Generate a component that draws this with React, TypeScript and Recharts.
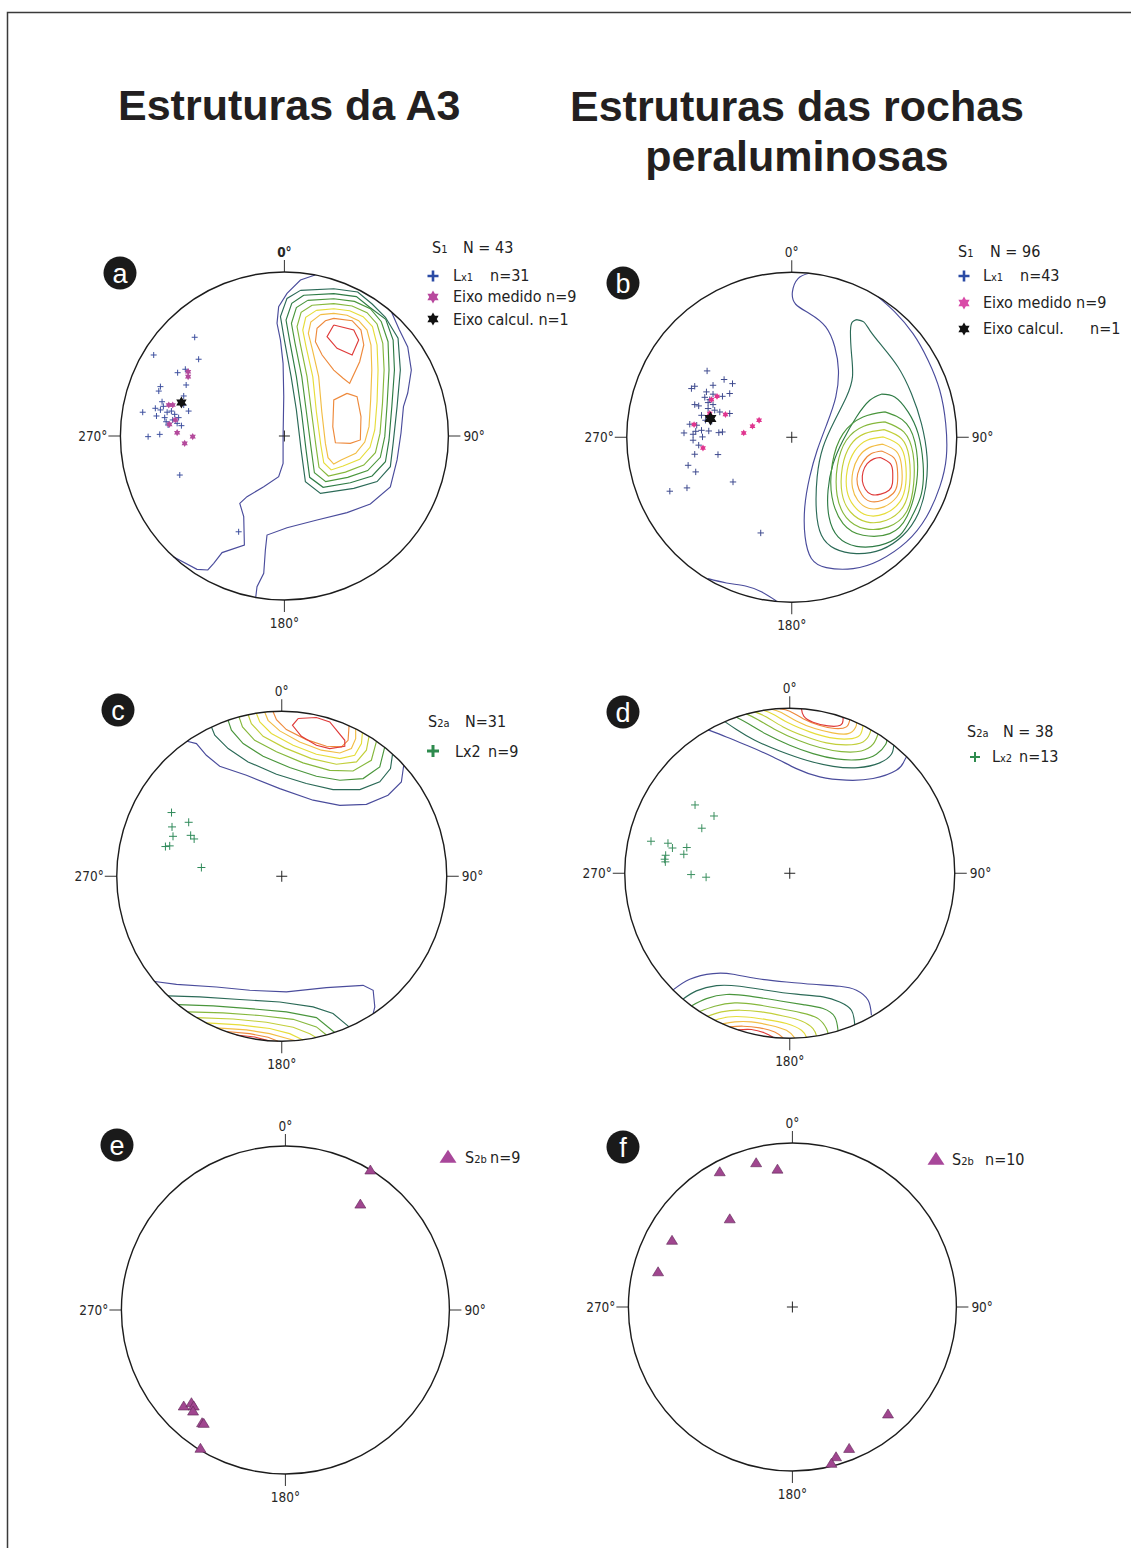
import React from "react";
import { ScatterChart, Scatter, XAxis, YAxis, ReferenceDot, ReferenceLine } from "recharts";

type Pt = [number, number];
type Contour = { level: number; closed?: boolean; pts: Pt[] };

// contour level colours, outermost (blue) to peak (red)
const levelColors = ["#4a4c9c", "#2b6a57", "#2e7b45", "#4a963c", "#86b83c", "#c2cf3a", "#e6dd3a", "#f2bd45", "#ee8a3c", "#df3b3a"];
const compassLabels = ["0°", "90°", "180°", "270°"];

// ---- a: S1 da A3 (coords on unit primitive circle, x = E, y = N)
const lx1A: Pt[] = [
  [-0.547, 0.602], [-0.797, 0.494], [-0.523, 0.468], [-0.651, 0.386], [-0.604, 0.407], [-0.599, 0.311], [-0.756, 0.301],
  [-0.766, 0.274], [-0.746, 0.209], [-0.614, 0.244], [-0.864, 0.145], [-0.756, 0.159], [-0.715, 0.145], [-0.689, 0.152],
  [-0.584, 0.152], [-0.78, 0.122], [-0.73, 0.112], [-0.721, 0.087], [-0.645, 0.112], [-0.628, 0.063], [-0.831, -0.004],
  [-0.76, 0.01], [-0.638, -0.238], [-0.279, -0.584], [-0.738, 0.181], [-0.709, 0.067], [-0.669, 0.132], [-0.614, 0.189],
  [-0.681, 0.098], [-0.787, 0.169], [-0.654, 0.077],
];
const eixoMedidoA: Pt[] = [
  [-0.587, 0.392], [-0.587, 0.362], [-0.705, 0.189], [-0.681, 0.189], [-0.665, 0.098], [-0.701, 0.071], [-0.654, 0.02],
  [-0.559, -0.004], [-0.608, -0.045],
];
const eixoCalcA: Pt[] = [[-0.628, 0.205]];
const contoursA: Contour[] = [
  { level: 0, pts: [[0.187, 0.982], [0.098, 0.951], [0.016, 0.87], [-0.035, 0.789], [-0.045, 0.687], [-0.024, 0.585], [-0.008, 0.443], [-0.004, 0.24], [-0.008, -0.004], [-0.008, -0.167], [-0.035, -0.248], [-0.126, -0.309], [-0.228, -0.37], [-0.272, -0.411], [-0.248, -0.492], [-0.244, -0.665], [-0.38, -0.711], [-0.431, -0.776], [-0.467, -0.817], [-0.533, -0.813], [-0.68, -0.735]] },
  { level: 0, pts: [[-0.175, -0.985], [-0.167, -0.919], [-0.126, -0.837], [-0.116, -0.695], [-0.106, -0.604], [0.016, -0.559], [0.199, -0.512], [0.382, -0.467], [0.524, -0.415], [0.646, -0.311], [0.687, -0.146], [0.711, 0.018], [0.726, 0.179], [0.752, 0.262], [0.774, 0.402], [0.752, 0.543], [0.7, 0.65], [0.655, 0.752]] },
  { level: 1, closed: true, pts: [[0.098, 0.888], [0.301, 0.898], [0.447, 0.878], [0.535, 0.805], [0.616, 0.724], [0.693, 0.596], [0.707, 0.402], [0.687, 0.179], [0.663, -0.045], [0.646, -0.187], [0.565, -0.278], [0.423, -0.319], [0.22, -0.35], [0.128, -0.278], [0.102, -0.085], [0.073, 0.159], [0.041, 0.362], [0.0, 0.585], [-0.024, 0.728], [0.016, 0.839]] },
  { level: 2, closed: true, pts: [[0.118, 0.858], [0.301, 0.868], [0.439, 0.85], [0.52, 0.785], [0.618, 0.711], [0.663, 0.585], [0.671, 0.402], [0.655, 0.179], [0.638, -0.024], [0.616, -0.157], [0.535, -0.244], [0.402, -0.285], [0.236, -0.313], [0.154, -0.252], [0.132, -0.085], [0.104, 0.148], [0.073, 0.362], [0.033, 0.575], [0.01, 0.707], [0.045, 0.809]] },
  { level: 3, closed: true, pts: [[0.142, 0.827], [0.301, 0.837], [0.427, 0.821], [0.524, 0.776], [0.591, 0.697], [0.632, 0.575], [0.638, 0.402], [0.626, 0.189], [0.612, -0.004], [0.585, -0.13], [0.508, -0.211], [0.386, -0.252], [0.252, -0.278], [0.183, -0.224], [0.163, -0.075], [0.134, 0.148], [0.106, 0.362], [0.065, 0.565], [0.043, 0.687], [0.073, 0.783]] },
  { level: 4, closed: true, pts: [[0.169, 0.797], [0.301, 0.807], [0.413, 0.793], [0.504, 0.752], [0.565, 0.683], [0.6, 0.565], [0.608, 0.402], [0.598, 0.199], [0.583, 0.016], [0.555, -0.102], [0.484, -0.177], [0.372, -0.22], [0.268, -0.244], [0.211, -0.191], [0.193, -0.065], [0.165, 0.148], [0.138, 0.362], [0.098, 0.555], [0.077, 0.667], [0.102, 0.754]] },
  { level: 6, closed: true, pts: [[0.195, 0.766], [0.301, 0.776], [0.398, 0.764], [0.48, 0.728], [0.537, 0.667], [0.565, 0.555], [0.571, 0.402], [0.565, 0.209], [0.551, 0.037], [0.522, -0.069], [0.459, -0.142], [0.358, -0.183], [0.285, -0.207], [0.24, -0.163], [0.222, -0.055], [0.195, 0.148], [0.173, 0.362], [0.132, 0.545], [0.112, 0.646], [0.13, 0.724]] },
  { level: 7, closed: true, pts: [[0.22, 0.74], [0.301, 0.748], [0.382, 0.736], [0.453, 0.703], [0.504, 0.646], [0.528, 0.555], [0.533, 0.402], [0.526, 0.22], [0.516, 0.057], [0.49, -0.037], [0.435, -0.106], [0.346, -0.146], [0.301, -0.171], [0.266, -0.132], [0.25, -0.045], [0.228, 0.148], [0.209, 0.362], [0.169, 0.535], [0.146, 0.626], [0.161, 0.695]] },
  { level: 8, closed: true, pts: [[0.301, 0.717], [0.413, 0.703], [0.467, 0.646], [0.484, 0.555], [0.459, 0.453], [0.398, 0.321], [0.358, 0.352], [0.301, 0.402], [0.23, 0.494], [0.189, 0.575], [0.199, 0.657], [0.25, 0.703]] },
  { level: 9, closed: true, pts: [[0.301, 0.677], [0.423, 0.646], [0.453, 0.585], [0.413, 0.494], [0.321, 0.535], [0.26, 0.606]] },
  { level: 8, closed: true, pts: [[0.382, 0.26], [0.443, 0.24], [0.467, 0.118], [0.463, -0.024], [0.402, -0.045], [0.311, -0.041], [0.295, 0.057], [0.301, 0.22]] },
];

// ---- b: S1 das rochas peraluminosas
const lx1B: Pt[] = [
  [-0.513, 0.402], [-0.608, 0.295], [-0.588, 0.309], [-0.477, 0.315], [-0.41, 0.35], [-0.359, 0.325], [-0.517, 0.275],
  [-0.477, 0.261], [-0.42, 0.248], [-0.376, 0.265], [-0.588, 0.198], [-0.564, 0.19], [-0.507, 0.21], [-0.477, 0.198],
  [-0.507, 0.174], [-0.547, 0.133], [-0.523, 0.103], [-0.436, 0.153], [-0.376, 0.144], [-0.653, 0.026], [-0.598, 0.018],
  [-0.582, 0.036], [-0.547, 0.042], [-0.503, 0.038], [-0.442, 0.028], [-0.42, 0.032], [-0.598, -0.018], [-0.541, 0.002],
  [-0.564, -0.048], [-0.588, -0.103], [-0.447, -0.105], [-0.628, -0.17], [-0.582, -0.21], [-0.356, -0.271], [-0.635, -0.307],
  [-0.739, -0.327], [-0.188, -0.58], [-0.497, 0.228], [-0.467, 0.164], [-0.527, 0.242], [-0.618, 0.079], [-0.576, 0.073],
  [-0.485, 0.097],
];
const eixoMedidoB: Pt[] = [
  [-0.487, 0.228], [-0.453, 0.248], [-0.497, 0.144], [-0.402, 0.138], [-0.592, 0.077], [-0.538, -0.065], [-0.291, 0.026],
  [-0.238, 0.067], [-0.198, 0.103],
];
const eixoCalcB: Pt[] = [[-0.493, 0.113]];
const contoursB: Contour[] = [
  { level: 0, pts: [[0.104, 0.994], [0.038, 0.962], [0.004, 0.881], [0.024, 0.806], [0.109, 0.749], [0.206, 0.669], [0.261, 0.547], [0.283, 0.406], [0.267, 0.244], [0.214, 0.083], [0.154, -0.079], [0.109, -0.24], [0.079, -0.422], [0.081, -0.604], [0.119, -0.735], [0.21, -0.79], [0.372, -0.796], [0.533, -0.745], [0.695, -0.634], [0.816, -0.483], [0.897, -0.301], [0.937, -0.119], [0.933, 0.083], [0.897, 0.285], [0.826, 0.467], [0.735, 0.628], [0.624, 0.76], [0.523, 0.851]] },
  { level: 0, pts: [[-0.507, -0.857], [-0.396, -0.883], [-0.275, -0.903], [-0.184, -0.937], [-0.093, -0.992]] },
  { level: 1, closed: true, pts: [[0.392, 0.713], [0.436, 0.699], [0.473, 0.648], [0.543, 0.558], [0.644, 0.426], [0.725, 0.265], [0.786, 0.083], [0.82, -0.119], [0.812, -0.301], [0.766, -0.463], [0.675, -0.594], [0.543, -0.681], [0.392, -0.705], [0.261, -0.675], [0.18, -0.594], [0.149, -0.442], [0.154, -0.24], [0.19, -0.059], [0.261, 0.103], [0.331, 0.244], [0.368, 0.366], [0.362, 0.507], [0.356, 0.648], [0.368, 0.699]] },
  { level: 2, closed: true, pts: [[0.543, 0.261], [0.624, 0.244], [0.705, 0.154], [0.766, 0.022], [0.796, -0.16], [0.786, -0.341], [0.727, -0.483], [0.655, -0.594], [0.533, -0.655], [0.392, -0.661], [0.281, -0.604], [0.226, -0.483], [0.22, -0.321], [0.251, -0.16], [0.311, -0.018], [0.392, 0.123], [0.473, 0.224]] },
  { level: 3, closed: true, pts: [[0.564, 0.154], [0.695, 0.083], [0.756, -0.079], [0.756, -0.281], [0.699, -0.479], [0.594, -0.584], [0.432, -0.594], [0.311, -0.523], [0.244, -0.362], [0.246, -0.16], [0.311, 0.022], [0.432, 0.123]] },
  { level: 4, closed: true, pts: [[0.564, 0.093], [0.679, 0.032], [0.735, -0.099], [0.739, -0.281], [0.695, -0.453], [0.584, -0.543], [0.442, -0.554], [0.331, -0.487], [0.275, -0.352], [0.277, -0.17], [0.331, -0.018], [0.436, 0.067]] },
  { level: 5, closed: true, pts: [[0.56, 0.046], [0.665, -0.008], [0.711, -0.119], [0.715, -0.281], [0.675, -0.422], [0.574, -0.503], [0.453, -0.513], [0.356, -0.453], [0.305, -0.341], [0.307, -0.18], [0.356, -0.048], [0.442, 0.022]] },
  { level: 6, closed: true, pts: [[0.556, 0.002], [0.651, -0.048], [0.689, -0.149], [0.691, -0.281], [0.655, -0.392], [0.564, -0.463], [0.457, -0.473], [0.378, -0.418], [0.335, -0.325], [0.337, -0.196], [0.382, -0.083], [0.457, -0.018]] },
  { level: 7, closed: true, pts: [[0.552, -0.042], [0.634, -0.085], [0.665, -0.17], [0.667, -0.281], [0.636, -0.362], [0.558, -0.422], [0.465, -0.43], [0.4, -0.382], [0.368, -0.305], [0.37, -0.21], [0.406, -0.119], [0.469, -0.063]] },
  { level: 8, closed: true, pts: [[0.545, -0.083], [0.618, -0.123], [0.64, -0.19], [0.64, -0.281], [0.614, -0.341], [0.549, -0.382], [0.473, -0.388], [0.424, -0.347], [0.398, -0.285], [0.4, -0.22], [0.432, -0.149], [0.483, -0.099]] },
  { level: 9, closed: true, pts: [[0.537, -0.123], [0.598, -0.16], [0.612, -0.216], [0.61, -0.281], [0.59, -0.321], [0.539, -0.345], [0.483, -0.347], [0.446, -0.315], [0.428, -0.265], [0.432, -0.21], [0.457, -0.16], [0.497, -0.131]] },
];

// ---- c: S2a da A3
const lx2C: Pt[] = [
  [-0.668, 0.386], [-0.665, 0.299], [-0.564, 0.327], [-0.659, 0.242], [-0.552, 0.248], [-0.531, 0.226], [-0.705, 0.18],
  [-0.679, 0.184], [-0.487, 0.053],
];
const contoursC: Contour[] = [
  { level: 0, pts: [[-0.574, 0.818], [-0.517, 0.804], [-0.457, 0.733], [-0.376, 0.667], [-0.214, 0.612], [-0.012, 0.531], [0.19, 0.461], [0.352, 0.43], [0.513, 0.436], [0.644, 0.491], [0.725, 0.572], [0.739, 0.671]] },
  { level: 1, pts: [[-0.426, 0.905], [-0.406, 0.855], [-0.325, 0.774], [-0.204, 0.693], [-0.032, 0.618], [0.149, 0.562], [0.311, 0.525], [0.473, 0.525], [0.594, 0.572], [0.659, 0.653], [0.671, 0.737]] },
  { level: 3, pts: [[-0.325, 0.945], [-0.305, 0.885], [-0.234, 0.804], [-0.113, 0.727], [0.048, 0.659], [0.21, 0.606], [0.352, 0.582], [0.493, 0.592], [0.594, 0.663], [0.624, 0.782]] },
  { level: 4, pts: [[-0.259, 0.966], [-0.238, 0.905], [-0.164, 0.824], [-0.032, 0.754], [0.129, 0.687], [0.291, 0.642], [0.432, 0.638], [0.543, 0.703], [0.574, 0.818]] },
  { level: 5, pts: [[-0.204, 0.98], [-0.184, 0.925], [-0.113, 0.848], [0.018, 0.778], [0.18, 0.713], [0.331, 0.679], [0.453, 0.693], [0.513, 0.764], [0.529, 0.848]] },
  { level: 6, pts: [[-0.154, 0.988], [-0.133, 0.935], [-0.063, 0.865], [0.069, 0.794], [0.21, 0.739], [0.352, 0.713], [0.442, 0.733], [0.483, 0.804], [0.489, 0.873]] },
  { level: 7, pts: [[-0.103, 0.994], [-0.083, 0.945], [-0.012, 0.881], [0.109, 0.814], [0.24, 0.764], [0.352, 0.747], [0.422, 0.774], [0.448, 0.834], [0.448, 0.893]] },
  { level: 8, pts: [[-0.053, 0.998], [-0.032, 0.949], [0.028, 0.889], [0.149, 0.828], [0.271, 0.788], [0.362, 0.784], [0.402, 0.824], [0.408, 0.913]] },
  { level: 9, closed: true, pts: [[0.099, 0.956], [0.21, 0.962], [0.291, 0.935], [0.382, 0.824], [0.382, 0.788], [0.291, 0.774], [0.21, 0.794], [0.119, 0.848], [0.065, 0.915]] },
  { level: 0, pts: [[-0.77, -0.638], [-0.638, -0.655], [-0.396, -0.671], [-0.194, -0.691], [0.028, -0.701], [0.271, -0.675], [0.493, -0.661], [0.554, -0.691], [0.564, -0.792], [0.554, -0.832]] },
  { level: 1, pts: [[-0.689, -0.725], [-0.497, -0.731], [-0.255, -0.747], [-0.012, -0.762], [0.19, -0.792], [0.311, -0.832], [0.408, -0.913]] },
  { level: 3, pts: [[-0.628, -0.778], [-0.416, -0.786], [-0.194, -0.802], [0.028, -0.822], [0.21, -0.857], [0.321, -0.947]] },
  { level: 4, pts: [[-0.568, -0.822], [-0.356, -0.828], [-0.133, -0.844], [0.069, -0.867], [0.21, -0.913], [0.271, -0.962]] },
  { level: 5, pts: [[-0.517, -0.857], [-0.295, -0.865], [-0.093, -0.885], [0.069, -0.915], [0.17, -0.954], [0.21, -0.978]] },
  { level: 6, pts: [[-0.457, -0.889], [-0.255, -0.901], [-0.073, -0.923], [0.048, -0.954], [0.129, -0.992]] },
  { level: 7, pts: [[-0.396, -0.919], [-0.214, -0.931], [-0.073, -0.954], [0.028, -0.982], [0.079, -0.996]] },
  { level: 8, pts: [[-0.335, -0.941], [-0.194, -0.954], [-0.083, -0.976], [-0.022, -1.0]] },
  { level: 9, pts: [[-0.275, -0.962], [-0.164, -0.974], [-0.083, -0.996]] },
];

// ---- d: S2a das rochas peraluminosas
const lx2D: Pt[] = [
  [-0.574, 0.414], [-0.459, 0.347], [-0.533, 0.273], [-0.841, 0.194], [-0.738, 0.182], [-0.711, 0.153], [-0.624, 0.156],
  [-0.642, 0.115], [-0.752, 0.109], [-0.758, 0.085], [-0.754, 0.069], [-0.598, -0.008], [-0.507, -0.024],
];
const contoursD: Contour[] = [
  { level: 0, pts: [[-0.495, 0.869], [-0.384, 0.826], [-0.263, 0.776], [-0.101, 0.705], [0.04, 0.634], [0.182, 0.584], [0.343, 0.564], [0.505, 0.574], [0.646, 0.624], [0.691, 0.675], [0.707, 0.705]] },
  { level: 1, pts: [[-0.394, 0.919], [-0.323, 0.871], [-0.212, 0.806], [-0.061, 0.741], [0.101, 0.685], [0.263, 0.648], [0.414, 0.64], [0.545, 0.669], [0.616, 0.721], [0.63, 0.776]] },
  { level: 3, pts: [[-0.323, 0.945], [-0.253, 0.907], [-0.141, 0.842], [0.0, 0.776], [0.141, 0.725], [0.283, 0.693], [0.424, 0.689], [0.525, 0.721], [0.582, 0.782], [0.586, 0.81]] },
  { level: 4, pts: [[-0.263, 0.966], [-0.192, 0.931], [-0.081, 0.867], [0.051, 0.806], [0.182, 0.762], [0.313, 0.737], [0.434, 0.741], [0.505, 0.782], [0.535, 0.844]] },
  { level: 5, pts: [[-0.212, 0.978], [-0.141, 0.947], [-0.04, 0.887], [0.091, 0.83], [0.222, 0.79], [0.343, 0.778], [0.444, 0.796], [0.485, 0.846], [0.491, 0.871]] },
  { level: 6, pts: [[-0.162, 0.988], [-0.101, 0.964], [0.0, 0.907], [0.121, 0.857], [0.242, 0.822], [0.354, 0.814], [0.424, 0.836], [0.444, 0.895]] },
  { level: 7, pts: [[-0.111, 0.994], [-0.051, 0.974], [0.04, 0.923], [0.152, 0.877], [0.259, 0.851], [0.354, 0.846], [0.4, 0.887], [0.404, 0.915]] },
  { level: 8, pts: [[-0.061, 0.998], [0.0, 0.982], [0.081, 0.937], [0.178, 0.897], [0.273, 0.877], [0.343, 0.887], [0.364, 0.931]] },
  { level: 9, pts: [[0.071, 0.996], [0.085, 0.952], [0.141, 0.915], [0.232, 0.893], [0.307, 0.897], [0.323, 0.927], [0.323, 0.945]] },
  { level: 0, pts: [[-0.707, -0.707], [-0.606, -0.642], [-0.465, -0.608], [-0.343, -0.612], [-0.202, -0.638], [-0.02, -0.659], [0.141, -0.673], [0.303, -0.685], [0.404, -0.709], [0.475, -0.77], [0.495, -0.861]] },
  { level: 1, pts: [[-0.646, -0.762], [-0.566, -0.713], [-0.444, -0.681], [-0.303, -0.685], [-0.141, -0.709], [0.04, -0.733], [0.202, -0.749], [0.303, -0.78], [0.374, -0.83], [0.394, -0.919]] },
  { level: 3, pts: [[-0.596, -0.804], [-0.505, -0.76], [-0.384, -0.735], [-0.242, -0.745], [-0.081, -0.77], [0.081, -0.796], [0.202, -0.82], [0.273, -0.871], [0.293, -0.956]] },
  { level: 4, pts: [[-0.545, -0.838], [-0.455, -0.806], [-0.333, -0.786], [-0.202, -0.796], [-0.061, -0.82], [0.071, -0.846], [0.172, -0.881], [0.222, -0.941], [0.232, -0.972]] },
  { level: 5, pts: [[-0.499, -0.867], [-0.414, -0.84], [-0.303, -0.83], [-0.172, -0.84], [-0.04, -0.865], [0.071, -0.895], [0.141, -0.941], [0.162, -0.986]] },
  { level: 6, pts: [[-0.455, -0.891], [-0.374, -0.871], [-0.263, -0.871], [-0.141, -0.887], [-0.02, -0.911], [0.071, -0.952], [0.101, -0.994]] },
  { level: 7, pts: [[-0.408, -0.913], [-0.333, -0.901], [-0.232, -0.901], [-0.121, -0.921], [-0.02, -0.952], [0.03, -0.998]] },
  { level: 8, pts: [[-0.364, -0.931], [-0.283, -0.927], [-0.182, -0.937], [-0.091, -0.962], [-0.04, -0.998]] },
  { level: 9, pts: [[-0.313, -0.949], [-0.232, -0.947], [-0.152, -0.968], [-0.101, -0.994]] },
];

// ---- e, f: S2b poles
const s2bE: Pt[] = [
  [0.518, 0.854], [0.457, 0.646], [-0.62, -0.585], [-0.573, -0.565], [-0.559, -0.585], [-0.563, -0.616], [-0.508, -0.687],
  [-0.498, -0.691], [-0.518, -0.843],
];
const s2bF: Pt[] = [
  [-0.443, 0.825], [-0.221, 0.88], [-0.091, 0.841], [-0.382, 0.538], [-0.734, 0.407], [-0.819, 0.215], [0.583, -0.652],
  [0.346, -0.862], [0.266, -0.913], [0.238, -0.953],
];

const FONT = "'DejaVu Sans Condensed', 'DejaVu Sans', sans-serif";
const TITLE_FONT = "'Liberation Sans', Arial, sans-serif";
const XR = 1.35;
const YR = 1.25;

const toRows = (pts: Pt[], closed?: boolean) => {
  const rows = pts.map(([x, y]) => ({ x, y }));
  return closed ? [...rows, rows[0]] : rows;
};

const noMark = () => <g />;

const plusPath = (x: number, y: number, a: number) => `M${x - a},${y}H${x + a}M${x},${y - a}V${y + a}`;
// six-pointed star: two triangles wound the same way so the middle stays filled
const starPath = (x: number, y: number, s: number) =>
  `M${x},${y - s}L${x + 0.866 * s},${y + 0.5 * s}L${x - 0.866 * s},${y + 0.5 * s}Z` +
  `M${x},${y + s}L${x - 0.866 * s},${y - 0.5 * s}L${x + 0.866 * s},${y - 0.5 * s}Z`;
const triPath = (x: number, y: number, w: number, h: number) =>
  `M${x},${y - h * 0.55}L${x + w / 2},${y + h * 0.45}L${x - w / 2},${y + h * 0.45}Z`;

const plus = (color: string, arm: number, sw: number) => (p: any) =>
  <path d={plusPath(p.cx, p.cy, arm)} stroke={color} strokeWidth={sw} fill="none" />;
const star = (color: string, s: number) => (p: any) => <path d={starPath(p.cx, p.cy, s)} fill={color} />;
const tri = (color: string) => (p: any) =>
  <path d={triPath(p.cx, p.cy, 11, 9)} fill={color} stroke="#5e2656" strokeWidth={0.6} />;

type Series = { key: string; pts: Pt[]; shape: (p: any) => React.ReactElement };

function Stereonet({
  cx, cy, r, contours = [], curve = "linear", series, center = true, boldNorth = false,
}: {
  cx: number; cy: number; r: number; contours?: Contour[]; curve?: "linear" | "natural";
  series: Series[]; center?: boolean; boldNorth?: boolean;
}) {
  const w = 2 * XR * r;
  const h = 2 * YR * r;
  const t = 12 / r;
  const lab = { fill: "#262626", fontSize: 13.5, fontFamily: FONT };
  return (
    <div style={{ position: "absolute", left: cx - XR * r, top: cy - YR * r }}>
      <ScatterChart width={w} height={h} margin={{ top: 0, right: 0, bottom: 0, left: 0 }}>
        <XAxis type="number" dataKey="x" domain={[-XR, XR]} allowDataOverflow hide />
        <YAxis type="number" dataKey="y" domain={[-YR, YR]} allowDataOverflow hide />
        {contours.map((c, i) => (
          <Scatter
            key={`c${i}`}
            data={toRows(c.pts, c.closed)}
            fill={levelColors[c.level]}
            line={{ stroke: levelColors[c.level], strokeWidth: 1.15 }}
            lineJointType={curve}
            shape={noMark}
            isAnimationActive={false}
          />
        ))}
        <ReferenceDot x={0} y={0} r={r} fill="none" stroke="#1c1c1c" strokeWidth={1.4} />
        <ReferenceLine segment={[{ x: 0, y: 1 }, { x: 0, y: 1 + t }]} stroke="#333"
          label={{ value: compassLabels[0], position: "top", offset: 3, ...lab, fontWeight: boldNorth ? 700 : 400 }} />
        <ReferenceLine segment={[{ x: 1, y: 0 }, { x: 1 + t, y: 0 }]} stroke="#333"
          label={{ value: compassLabels[1], position: "right", offset: 3, ...lab }} />
        <ReferenceLine segment={[{ x: 0, y: -1 }, { x: 0, y: -1 - t }]} stroke="#333"
          label={{ value: compassLabels[2], position: "bottom", offset: 6, ...lab }} />
        <ReferenceLine segment={[{ x: -1, y: 0 }, { x: -1 - t, y: 0 }]} stroke="#333"
          label={{ value: compassLabels[3], position: "left", offset: 1, ...lab }} />
        {center && <Scatter data={[{ x: 0, y: 0 }]} shape={plus("#222", 5.5, 1)} isAnimationActive={false} />}
        {series.map((s) => (
          <Scatter key={s.key} data={toRows(s.pts)} shape={s.shape} isAnimationActive={false} />
        ))}
      </ScatterChart>
    </div>
  );
}

const Sub = ({ children }: { children: React.ReactNode }) => <tspan fontSize={11}>{children}</tspan>;

function Badge({ x, y, letter }: { x: number; y: number; letter: string }) {
  return (
    <g>
      <circle cx={x} cy={y} r={16.5} fill="#1a1a1a" />
      <text x={x} y={y + 9.5} textAnchor="middle" fill="#fff" fontSize={27} fontFamily={TITLE_FONT}>{letter}</text>
    </g>
  );
}

export default function App() {
  const txt = { fontFamily: FONT, fontSize: 16, fill: "#222" };
  const title = { fontFamily: TITLE_FONT, fontSize: 43, fontWeight: 700, fill: "#231f20" };
  return (
    <div style={{ position: "absolute", left: 0, top: 0, width: 1131, height: 1548, background: "#fff", overflow: "hidden" }}>
      <svg width={1131} height={1548} style={{ position: "absolute", left: 0, top: 0 }}>
        <path d="M7.5,1548V12.5H1131" fill="none" stroke="#3a3a3a" strokeWidth={1.5} />
        <text x={118} y={120} {...title}>Estruturas da A3</text>
        <text x={797} y={121} textAnchor="middle" {...title}>Estruturas das rochas</text>
        <text x={797} y={171} textAnchor="middle" {...title}>peraluminosas</text>

        <Badge x={120} y={273} letter="a" />
        <Badge x={623} y={283} letter="b" />
        <Badge x={118} y={710} letter="c" />
        <Badge x={623} y={712} letter="d" />
        <Badge x={117} y={1145} letter="e" />
        <Badge x={623} y={1147} letter="f" />

        {/* legend a */}
        <text x={432} y={253} {...txt}>S<Sub>1</Sub></text>
        <text x={463} y={253} {...txt}>N = 43</text>
        <path d={plusPath(433, 276, 5.5)} stroke="#2b4ba5" strokeWidth={2.6} />
        <text x={453} y={281} {...txt}>L<Sub>x1</Sub></text>
        <text x={490} y={281} {...txt}>n=31</text>
        <path d={starPath(433, 297, 6.5)} fill="#b8489e" />
        <text x={453} y={302} {...txt}>Eixo medido n=9</text>
        <path d={starPath(433, 319, 6.5)} fill="#111" />
        <text x={453} y={325} {...txt}>Eixo calcul. n=1</text>

        {/* legend b */}
        <text x={958} y={257} {...txt}>S<Sub>1</Sub></text>
        <text x={990} y={257} {...txt}>N = 96</text>
        <path d={plusPath(964, 276, 5.5)} stroke="#2b4ba5" strokeWidth={2.6} />
        <text x={983} y={281} {...txt}>L<Sub>x1</Sub></text>
        <text x={1020} y={281} {...txt}>n=43</text>
        <path d={starPath(964, 303, 6.5)} fill="#d94aa8" />
        <text x={983} y={308} {...txt}>Eixo medido n=9</text>
        <path d={starPath(964, 329, 6.5)} fill="#111" />
        <text x={983} y={334} {...txt}>Eixo calcul.</text>
        <text x={1090} y={334} {...txt}>n=1</text>

        {/* legend c */}
        <text x={428} y={727} {...txt}>S<Sub>2a</Sub></text>
        <text x={465} y={727} {...txt}>N=31</text>
        <path d={plusPath(433, 751, 6)} stroke="#2e8b4e" strokeWidth={3} />
        <text x={455} y={757} {...txt}>Lx2</text>
        <text x={488} y={757} {...txt}>n=9</text>

        {/* legend d */}
        <text x={967} y={737} {...txt}>S<Sub>2a</Sub></text>
        <text x={1003} y={737} {...txt}>N = 38</text>
        <path d={plusPath(975, 757, 5)} stroke="#2e8b4e" strokeWidth={2} />
        <text x={992} y={762} {...txt}>L<Sub>x2</Sub></text>
        <text x={1019} y={762} {...txt}>n=13</text>

        {/* legend e, f */}
        <path d={triPath(448, 1157, 17, 13)} fill="#a8479a" />
        <text x={465} y={1163} {...txt}>S<Sub>2b</Sub></text>
        <text x={490} y={1163} {...txt}>n=9</text>
        <path d={triPath(936, 1159, 17, 13)} fill="#a8479a" />
        <text x={952} y={1165} {...txt}>S<Sub>2b</Sub></text>
        <text x={985} y={1165} {...txt}>n=10</text>
      </svg>

      <Stereonet cx={284} cy={436} r={164} contours={contoursA} boldNorth
        series={[
          { key: "lx1", pts: lx1A, shape: plus("#3d4f9f", 3, 1) },
          { key: "med", pts: eixoMedidoA, shape: star("#b44a9c", 3.6) },
          { key: "calc", pts: eixoCalcA, shape: star("#111", 6) },
        ]} />
      <Stereonet cx={792} cy={437} r={165} contours={contoursB} curve="natural"
        series={[
          { key: "lx1", pts: lx1B, shape: plus("#3f4b8f", 3.2, 1) },
          { key: "med", pts: eixoMedidoB, shape: star("#e0358f", 3.4) },
          { key: "calc", pts: eixoCalcB, shape: star("#111", 7) },
        ]} />
      <Stereonet cx={282} cy={876} r={165} contours={contoursC}
        series={[{ key: "lx2", pts: lx2C, shape: plus("#2f8a5a", 4, 1) }]} />
      <Stereonet cx={790} cy={873} r={165} contours={contoursD} curve="natural"
        series={[{ key: "lx2", pts: lx2D, shape: plus("#3a8f5f", 4, 1) }]} />
      <Stereonet cx={285} cy={1310} r={164} center={false}
        series={[{ key: "s2b", pts: s2bE, shape: tri("#a0468f") }]} />
      <Stereonet cx={792} cy={1307} r={164}
        series={[{ key: "s2b", pts: s2bF, shape: tri("#a0468f") }]} />
    </div>
  );
}
